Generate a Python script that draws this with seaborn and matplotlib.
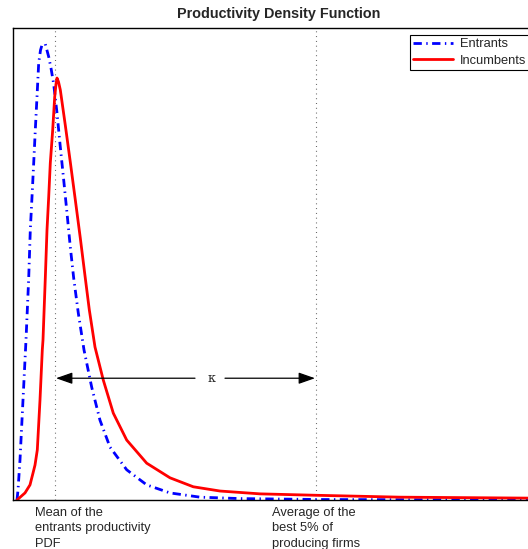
import numpy as np
import pandas as pd
import matplotlib
matplotlib.use("Agg")
import matplotlib.pyplot as plt
import seaborn as sns

# ---- data ----
entrants_x = [0.04, 0.05, 0.07, 0.10, 0.13, 0.157, 0.173, 0.19, 0.207, 0.223, 0.24, 0.257,
              0.275, 0.29, 0.323, 0.357, 0.38, 0.407, 0.44, 0.473, 0.507, 0.54, 0.573,
              0.607, 0.653, 0.71, 0.787, 0.87, 0.97, 1.137, 1.337, 1.57, 1.87, 2.27, 3.07,
              5.32]
entrants_y = [0.000, 0.021, 0.085, 0.212, 0.339, 0.470, 0.572, 0.642, 0.714, 0.784, 0.854,
              0.926, 0.953, 0.964, 0.966, 0.939, 0.915, 0.881, 0.820, 0.748, 0.678, 0.608,
              0.536, 0.470, 0.396, 0.318, 0.239, 0.169, 0.112, 0.064, 0.032, 0.015, 0.006,
              0.003, 0.001, 0.000]

incumbents_x = [0.04, 0.12, 0.17, 0.20, 0.22, 0.243, 0.27, 0.293, 0.30, 0.323, 0.34, 0.357,
                0.373, 0.397, 0.417, 0.43, 0.44, 0.455, 0.473, 0.523, 0.573, 0.623, 0.673,
                0.723, 0.763, 0.82, 0.903, 1.003, 1.137, 1.337, 1.57, 1.803, 2.07, 2.47,
                3.03, 3.87, 5.15, 5.32]
incumbents_y = [0.000, 0.015, 0.032, 0.057, 0.074, 0.106, 0.212, 0.318, 0.339, 0.470, 0.572,
                0.642, 0.714, 0.784, 0.854, 0.881, 0.894, 0.886, 0.869, 0.794, 0.716, 0.636,
                0.555, 0.470, 0.403, 0.324, 0.254, 0.184, 0.127, 0.078, 0.047, 0.028, 0.019,
                0.013, 0.010, 0.006, 0.004, 0.004]

series_labels = ["Entrants", "Incumbents"]
entrants_mean = 0.42
best5_average = 3.03
kappa_level = 0.258
kappa_pos = 1.98
kappa_label = "κ"
title_text = "Productivity Density Function"
label_mean = "Mean of the\nentrants productivity\nPDF"
label_best = "Average of the\nbest 5% of\nproducing firms"

# ---- style ----
sns.set_style("white")
plt.rcParams["font.family"] = ["Liberation Sans", "DejaVu Sans"]

fig = plt.figure(figsize=(5.28, 5.49), dpi=100)
ax = fig.add_axes([13 / 528, 49 / 549, 532 / 528, 472 / 549])

df_e = pd.DataFrame({"x": entrants_x, "y": entrants_y})
df_i = pd.DataFrame({"x": incumbents_x, "y": incumbents_y})

sns.lineplot(data=df_e, x="x", y="y", ax=ax, color="#0000ff", lw=2.0,
             linestyle=(0, (3, 1.6, 0.5, 1.6)), sort=False, estimator=None,
             label=series_labels[0])
sns.lineplot(data=df_i, x="x", y="y", ax=ax, color="#ff0000", lw=2.0,
             linestyle="-", sort=False, estimator=None, label=series_labels[1])

ax.set_xlim(0, 5.32)
ax.set_ylim(0, 1.0)

for xv in (entrants_mean, best5_average):
    ax.axvline(xv, color="#555555", lw=0.8, linestyle=(0, (0.8, 3.5)), zorder=1)

# kappa arrows
astyle = dict(arrowstyle="-|>,head_length=1.0,head_width=0.35",
              color="black", lw=0.9, shrinkA=0, shrinkB=0)
ax.annotate("", xy=(entrants_mean + 0.01, kappa_level), xytext=(kappa_pos - 0.16, kappa_level),
            arrowprops=astyle)
ax.annotate("", xy=(best5_average - 0.01, kappa_level), xytext=(kappa_pos + 0.14, kappa_level),
            arrowprops=astyle)
ax.text(kappa_pos, kappa_level, kappa_label, ha="center", va="center", fontsize=9,
        family=["DejaVu Serif"])

ax.set_xticks([])
ax.set_yticks([])
ax.set_xlabel("")
ax.set_ylabel("")
for s in ("left", "top", "bottom"):
    ax.spines[s].set_color("black")
    ax.spines[s].set_linewidth(1.0)
ax.spines["right"].set_visible(False)

ax.set_title(title_text, fontsize=10.4, fontweight="bold", pad=7)

ax.text(entrants_mean - 0.20, -0.014, label_mean, transform=ax.transData, ha="left",
        va="top", fontsize=9.3, linespacing=1.42, clip_on=False)
ax.text(best5_average - 0.44, -0.014, label_best, transform=ax.transData, ha="left",
        va="top", fontsize=9.3, linespacing=1.42, clip_on=False)

leg = ax.legend(loc="upper left", bbox_to_anchor=((410 - 13) / 532, (500 - 35) / 472),
                fontsize=9.3, frameon=True, fancybox=False, framealpha=1,
                edgecolor="black", handlelength=3.1, handletextpad=0.5, borderpad=0.25,
                labelspacing=0.35, borderaxespad=0)
leg.get_frame().set_linewidth(0.8)

fig.savefig("out.png", dpi=100)
